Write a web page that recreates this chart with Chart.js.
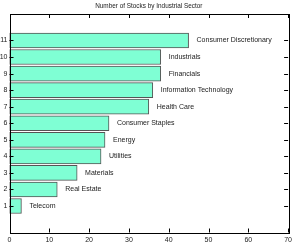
<!DOCTYPE html>
<html>
<head>
<meta charset="utf-8">
<script src="https://cdn.jsdelivr.net/npm/chart.js@4/dist/chart.umd.min.js"></script>
<style>
  html, body { margin: 0; padding: 0; background: #fff; }
  #wrap { width: 295px; height: 242px; }
</style>
</head>
<body>
<div id="wrap"><canvas id="grafico"></canvas></div>
<script>
// datos
const titulo = "Number of Stocks by Industrial Sector";
const posiciones = [1, 2, 3, 4, 5, 6, 7, 8, 9, 10, 11];
const sectores = ["Telecom", "Real Estate", "Materials", "Utilities", "Energy",
    "Consumer Staples", "Health Care", "Information Technology", "Financials",
    "Industrials", "Consumer Discretionary"];
const acciones = [3, 12, 17, 23, 24, 25, 35, 36, 38, 38, 45];
const ticksX = [0, 10, 20, 30, 40, 50, 60, 70];

const fuente = "'Liberation Sans', Arial, sans-serif";

// marco, ticks hacia dentro, etiquetas y titulo al estilo gnuplot
const estiloGnuplot = {
    id: "estiloGnuplot",
    afterDatasetsDraw(chart) {
        const { ctx, chartArea: a, scales } = chart;
        ctx.save();
        ctx.strokeStyle = "#000";
        ctx.lineWidth = 1;
        ctx.beginPath();
        for (const v of ticksX) {
            const x = Math.round(scales.x.getPixelForValue(v)) + 0.5;
            ctx.moveTo(x, a.bottom); ctx.lineTo(x, a.bottom - 4);
            ctx.moveTo(x, a.top); ctx.lineTo(x, a.top + 4);
        }
        for (const v of posiciones) {
            const y = Math.round(scales.y.getPixelForValue(v)) + 0.5;
            ctx.moveTo(a.left, y); ctx.lineTo(a.left + 4, y);
            ctx.moveTo(a.right, y); ctx.lineTo(a.right - 4, y);
        }
        ctx.stroke();
        ctx.strokeRect(Math.round(a.left) + 0.5, Math.round(a.top) + 0.5,
            Math.round(a.right - a.left), Math.round(a.bottom - a.top));

        ctx.fillStyle = "#222";
        ctx.font = "7px " + fuente;
        ctx.textBaseline = "middle";
        ctx.textAlign = "left";
        sectores.forEach((s, i) => {
            const x = scales.x.getPixelForValue(acciones[i] + 2);
            const y = scales.y.getPixelForValue(posiciones[i]);
            ctx.fillText(s, x, y);
        });
        ctx.textAlign = "center";
        ctx.font = "6.4px " + fuente;
        ctx.fillText(titulo, (a.left + a.right) / 2, 6);
        ctx.restore();
    }
};

grafico = new Chart(document.getElementById("grafico"), {
    type: "bar",
    data: {
        datasets: [{
            data: posiciones.map((p, i) => ({ x: acciones[i], y: p })),
            backgroundColor: "#7fffd4",
            borderColor: "#555",
            borderWidth: 1,
            borderSkipped: false,
            barThickness: 15
        }]
    },
    options: {
        indexAxis: "y",
        responsive: true,
        maintainAspectRatio: false,
        animation: false,
        layout: { padding: { top: 14, right: 6, left: 0, bottom: 0 } },
        plugins: { legend: { display: false }, tooltip: { enabled: false }, title: { display: false } },
        scales: {
            x: {
                type: "linear",
                min: 0, max: 70,
                afterBuildTicks: s => { s.ticks = ticksX.map(v => ({ value: v })); },
                afterFit: s => { s.height = 9.5; },
                grid: { display: false, drawTicks: false },
                border: { display: false },
                ticks: { padding: 3, color: "#222", font: { family: fuente, size: 7 }, maxRotation: 0 }
            },
            y: {
                type: "linear",
                min: 0, max: 12,
                afterBuildTicks: s => { s.ticks = posiciones.map(v => ({ value: v })); },
                afterFit: s => { s.width = 9.5; },
                grid: { display: false, drawTicks: false },
                border: { display: false },
                ticks: { padding: 2, color: "#222", font: { family: fuente, size: 7 } }
            }
        }
    },
    plugins: [estiloGnuplot]
});
</script>
</body>
</html>
